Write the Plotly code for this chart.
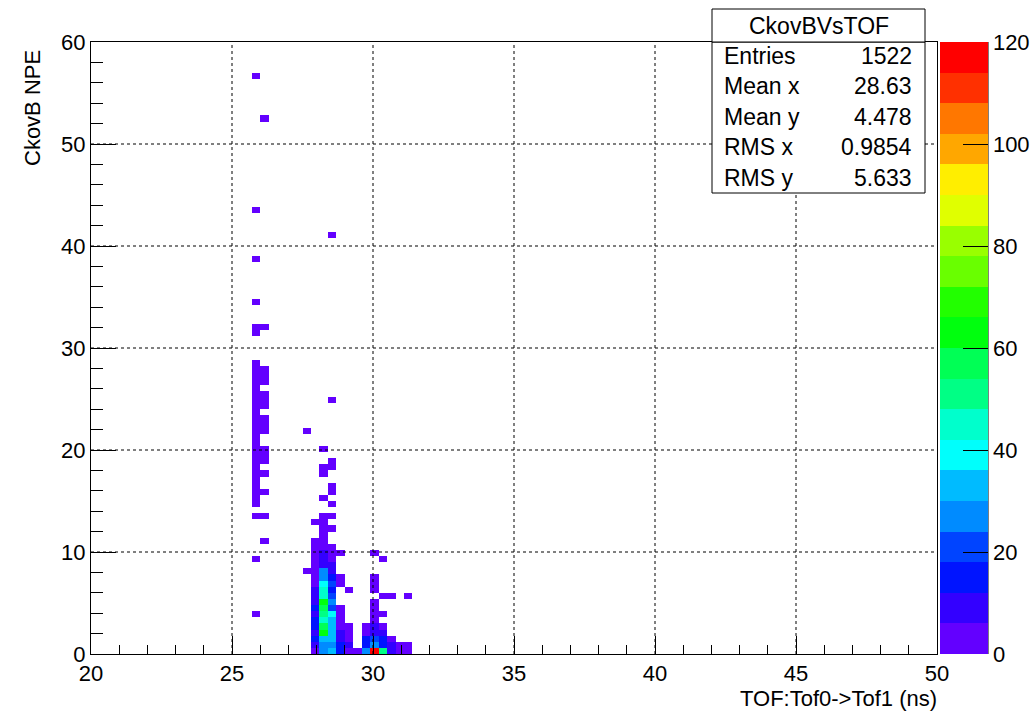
import colorsys
import numpy as np
import plotly.graph_objects as go

# ---------------- data ----------------
x_edges = np.linspace(20, 50, 101)   # TOF bins, 0.3 ns
y_edges = np.linspace(0, 60, 101)    # NPE bins, 0.6

cell_tof = (
    [25.85] * 33 + [26.15] * 18 + [27.65] * 2 + [27.95] * 20 + [28.25] * 27 +
    [28.55] * 27 + [28.85] * 11 + [29.15] * 6 + [29.45] * 1 + [29.75] * 5 +
    [30.05] * 13 + [30.35] * 8 + [30.65] * 4 + [30.95] * 2 + [31.25] * 3
)
cell_npe = (
    # 25.85
    [56.7, 43.5, 38.7, 34.5, 32.1, 31.5, 28.5, 27.9, 27.3, 26.7, 26.1, 25.5, 24.9,
     24.3, 23.7, 23.1, 22.5, 21.9, 21.3, 20.7, 20.1, 19.5, 18.9, 18.3, 17.7, 17.1,
     16.5, 15.9, 15.3, 14.7, 13.5, 9.3, 3.9] +
    # 26.15
    [52.5, 32.1, 27.9, 27.3, 26.7, 25.5, 24.9, 24.3, 23.1, 22.5, 21.9, 20.1, 19.5,
     18.9, 17.7, 15.9, 13.5, 11.1] +
    # 27.65
    [21.9, 8.1] +
    # 27.95
    [12.9, 11.1, 10.5, 9.9, 9.3, 8.7, 8.1, 7.5, 6.9, 6.3, 5.7, 5.1, 4.5, 3.9, 3.3,
     2.7, 2.1, 1.5, 0.9, 0.3] +
    # 28.25
    [20.1, 18.3, 17.7, 15.3, 13.5, 12.9, 12.3, 11.7, 11.1, 10.5, 9.9, 9.3, 8.7, 8.1,
     7.5, 6.9, 6.3, 5.7, 5.1, 4.5, 3.9, 3.3, 2.7, 2.1, 1.5, 0.9, 0.3] +
    # 28.55
    [41.1, 24.9, 18.9, 18.3, 16.5, 15.9, 14.7, 13.5, 12.3, 10.5, 9.9, 9.3, 8.7, 8.1,
     7.5, 6.9, 6.3, 5.7, 5.1, 4.5, 3.9, 3.3, 2.7, 2.1, 1.5, 0.9, 0.3] +
    # 28.85
    [9.9, 7.5, 6.9, 4.5, 3.9, 3.3, 2.7, 2.1, 1.5, 0.9, 0.3] +
    # 29.15
    [6.3, 2.7, 2.1, 1.5, 0.9, 0.3] +
    # 29.45
    [0.3] +
    # 29.75
    [2.7, 2.1, 1.5, 0.9, 0.3] +
    # 30.05
    [9.9, 7.5, 6.9, 6.3, 5.1, 4.5, 3.9, 3.3, 2.7, 2.1, 1.5, 0.9, 0.3] +
    # 30.35
    [9.3, 5.7, 3.9, 2.7, 2.1, 1.5, 0.9, 0.3] +
    # 30.65
    [5.7, 1.5, 0.9, 0.3] +
    # 30.95
    [0.9, 0.3] +
    # 31.25
    [5.7, 0.9, 0.3]
)
cell_n = (
    # 25.85
    [1, 1, 1, 1, 1, 1, 2, 3, 2, 2, 1, 2, 3, 2, 2, 3, 2, 2, 3, 2, 2, 1, 2, 2, 3, 2,
     1, 2, 2, 1, 1, 1, 1] +
    # 26.15
    [1, 1, 1, 2, 1, 1, 2, 1, 1, 2, 1, 1, 2, 1, 1, 1, 1, 1] +
    # 27.65
    [1, 1] +
    # 27.95
    [1, 2, 3, 2, 3, 3, 4, 5, 5, 8, 9, 10, 14, 10, 14, 15, 11, 16, 8, 4] +
    # 28.25
    [1, 1, 1, 1, 1, 1, 2, 3, 4, 4, 8, 9, 10, 26, 25, 38, 44, 43, 62, 56, 50, 44, 55,
     61, 32, 26, 25] +
    # 28.55
    [1, 1, 1, 1, 1, 1, 1, 1, 1, 2, 3, 5, 8, 9, 15, 20, 17, 21, 27, 20, 38, 32, 32,
     32, 30, 27, 32] +
    # 28.85
    [2, 3, 2, 2, 3, 4, 4, 8, 9, 14, 15] +
    # 29.15
    [1, 1, 2, 3, 7, 4] +
    # 29.45
    [3] +
    # 29.75
    [2, 4, 14, 15, 27] +
    # 30.05
    [1, 2, 2, 2, 2, 3, 3, 4, 8, 9, 20, 27, 117] +
    # 30.35
    [1, 2, 2, 3, 8, 15, 16, 51] +
    # 30.65
    [1, 3, 8, 9] +
    # 30.95
    [2, 3] +
    # 31.25
    [1, 2, 2]
)

x_ticks = [20, 25, 30, 35, 40, 45, 50]
y_ticks = [0, 10, 20, 30, 40, 50, 60]
z_ticks = [0, 20, 40, 60, 80, 100, 120]
stat_labels = ["Entries", "Mean x", "Mean y", "RMS x", "RMS y"]
stat_values = ["1522", "28.63", "4.478", "0.9854", "5.633"]
hist_name = "CkovBVsTOF"
x_title = "TOF:Tof0->Tof1 (ns)"
y_title = "CkovB NPE"

# ---------------- histogram ----------------
H, _, _ = np.histogram2d(cell_tof, cell_npe, bins=[x_edges, y_edges], weights=cell_n)
z = H.T.astype(float)
z[z == 0] = np.nan
xc = 0.5 * (x_edges[1:] + x_edges[:-1])
yc = 0.5 * (y_edges[1:] + y_edges[:-1])

# ROOT "pretty" palette (SetPalette(1)) with 20 contour levels
ncont = 20
band_colors = []
for i in range(ncont):
    c = int((i + 0.99) * 50 / ncont)
    hue = 280 - (c + 1) * 5.6
    r, g, b = colorsys.hls_to_rgb(hue / 360.0, 0.5, 1.0)
    band_colors.append("rgb(%d,%d,%d)" % (round(r * 255), round(g * 255), round(b * 255)))
colorscale = []
for i, col in enumerate(band_colors):
    colorscale.append([i / ncont, col])
    colorscale.append([(i + 1) / ncont, col])

# ---------------- layout helpers ----------------
L, R, T, B = 91, 937, 42, 654
W, HGT = 1034, 711


def px_x(p):
    return (p - L) / (R - L)


def px_y(p):
    return (B - p) / (B - T)


FONT = "Liberation Sans"

fig = go.Figure()
fig.add_trace(go.Heatmap(
    x=xc, y=yc, z=z, zmin=0, zmax=120, colorscale=colorscale,
    zsmooth=False, hoverongaps=False,
    colorbar=dict(
        x=px_x(940), xanchor="left", y=0, yanchor="bottom", len=1,
        thickness=48, thicknessmode="pixels", xpad=0, ypad=0,
        outlinewidth=0, tickvals=z_ticks, ticks="inside", ticklen=25,
        tickcolor="black", tickwidth=1,
        tickfont=dict(family=FONT, size=22, color="black"),
    ),
))

shapes = []
for v in x_ticks[1:-1]:
    shapes.append(dict(type="line", xref="x", yref="paper", x0=v, x1=v, y0=0, y1=1,
                       line=dict(color="black", width=1, dash="dot"), layer="above"))
for v in y_ticks[1:-1]:
    shapes.append(dict(type="line", xref="paper", yref="y", x0=0, x1=1, y0=v, y1=v,
                       line=dict(color="black", width=1, dash="dot"), layer="above"))
# palette axis line
shapes.append(dict(type="line", xref="paper", yref="paper", x0=px_x(988), x1=px_x(988),
                   y0=0, y1=1, line=dict(color="black", width=1), layer="above"))
# stats box
shapes.append(dict(type="rect", xref="paper", yref="paper", x0=px_x(712), x1=px_x(925),
                   y0=px_y(193), y1=px_y(42), line=dict(color="black", width=1),
                   fillcolor="white", layer="above"))
shapes.append(dict(type="rect", xref="paper", yref="paper", x0=px_x(712), x1=px_x(925),
                   y0=px_y(42), y1=px_y(9), line=dict(color="black", width=1),
                   fillcolor="white", layer="above"))

annotations = []
annotations.append(dict(text=hist_name, xref="paper", yref="paper", x=px_x(818.5),
                        y=px_y(25.5), xanchor="center", yanchor="middle", showarrow=False,
                        font=dict(family=FONT, size=23, color="black")))
row_y = [56, 86, 117, 147, 178]
for lab, val, ry in zip(stat_labels, stat_values, row_y):
    annotations.append(dict(text=lab, xref="paper", yref="paper", x=px_x(722), y=px_y(ry),
                            xanchor="left", yanchor="middle", showarrow=False,
                            font=dict(family=FONT, size=23, color="black")))
    annotations.append(dict(text=val, xref="paper", yref="paper", x=px_x(914), y=px_y(ry),
                            xanchor="right", yanchor="middle", showarrow=False,
                            font=dict(family=FONT, size=23, color="black")))
annotations.append(dict(text=x_title, xref="paper", yref="paper", x=px_x(939), y=px_y(698),
                        xanchor="right", yanchor="middle", showarrow=False,
                        font=dict(family=FONT, size=22, color="black")))
annotations.append(dict(text=y_title, xref="paper", yref="paper", x=px_x(33), y=px_y(108),
                        xanchor="center", yanchor="middle", showarrow=False, textangle=-90,
                        font=dict(family=FONT, size=22, color="black")))

axis_common = dict(showline=True, mirror=True, linecolor="black", linewidth=1,
                   ticks="inside", tickcolor="black", tickwidth=1, showgrid=False,
                   zeroline=False, tickfont=dict(family=FONT, size=22, color="black"))

fig.update_layout(
    width=W, height=HGT,
    margin=dict(l=L, r=W - R, t=T, b=HGT - B, pad=0, autoexpand=False),
    paper_bgcolor="white", plot_bgcolor="white",
    xaxis=dict(range=[20, 50], tickvals=x_ticks, ticklen=18,
               minor=dict(dtick=1, ticklen=9, ticks="inside", tickcolor="black", showgrid=False),
               **axis_common),
    yaxis=dict(range=[0, 60], tickvals=y_ticks, ticklen=25,
               minor=dict(dtick=2, ticklen=12, ticks="inside", tickcolor="black", showgrid=False),
               **axis_common),
    shapes=shapes, annotations=annotations, showlegend=False,
)

fig.write_html("out.html")
